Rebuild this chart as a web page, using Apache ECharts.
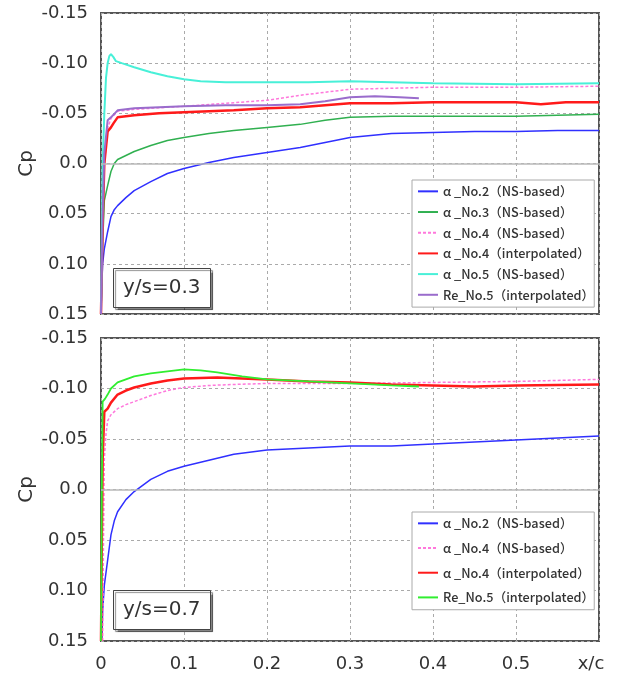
<!DOCTYPE html>
<html>
<head>
<meta charset="utf-8">
<script src="https://cdn.jsdelivr.net/npm/echarts@6.0.0/dist/echarts.min.js"></script>
<style>
  html, body { margin: 0; padding: 0; background: #fff; }
  #chart { width: 625px; height: 677px; }
</style>
</head>
<body>
<div id="chart"></div>
<script>
// ---- y/s = 0.3 : chordwise pressure coefficient ----
const xA2_03 = [0, 0.001, 0.002, 0.004, 0.008, 0.012, 0.016, 0.02, 0.03, 0.04, 0.06, 0.08, 0.1, 0.13, 0.16, 0.2, 0.24, 0.27, 0.3, 0.35, 0.4, 0.45, 0.5, 0.55, 0.6];
const cpA2_03 = [0.15, 0.12, 0.1, 0.085, 0.068, 0.053, 0.046, 0.042, 0.034, 0.027, 0.018, 0.01, 0.005, -0.001, -0.006, -0.011, -0.016, -0.021, -0.026, -0.03, -0.031, -0.032, -0.032, -0.033, -0.033];

const xA3_03 = [0, 0.002, 0.004, 0.008, 0.012, 0.016, 0.02, 0.03, 0.04, 0.06, 0.08, 0.1, 0.13, 0.16, 0.2, 0.24, 0.27, 0.3, 0.35, 0.4, 0.5, 0.6];
const cpA3_03 = [0.15, 0.08, 0.037, 0.022, 0.008, 0.0, -0.004, -0.008, -0.012, -0.018, -0.023, -0.026, -0.03, -0.033, -0.036, -0.039, -0.043, -0.046, -0.047, -0.047, -0.047, -0.049];

const xA4ns_03 = [0, 0.002, 0.004, 0.008, 0.012, 0.02, 0.04, 0.06, 0.1, 0.15, 0.2, 0.24, 0.27, 0.3, 0.35, 0.4, 0.5, 0.6];
const cpA4ns_03 = [0.15, 0.05, 0.0, -0.035, -0.045, -0.052, -0.054, -0.055, -0.057, -0.06, -0.063, -0.068, -0.071, -0.074, -0.075, -0.076, -0.076, -0.077];

const xA4ip_03 = [0, 0.002, 0.004, 0.008, 0.012, 0.015, 0.02, 0.04, 0.07, 0.1, 0.13, 0.16, 0.2, 0.24, 0.27, 0.3, 0.35, 0.4, 0.45, 0.5, 0.53, 0.56, 0.6];
const cpA4ip_03 = [0.15, 0.06, 0.0, -0.032, -0.036, -0.04, -0.046, -0.048, -0.05, -0.051, -0.052, -0.053, -0.055, -0.056, -0.058, -0.06, -0.06, -0.061, -0.061, -0.061, -0.059, -0.061, -0.061];

const xA5_03 = [0, 0.002, 0.004, 0.006, 0.008, 0.01, 0.012, 0.015, 0.018, 0.025, 0.04, 0.06, 0.08, 0.1, 0.12, 0.15, 0.2, 0.25, 0.3, 0.35, 0.4, 0.5, 0.6];
const cpA5_03 = [0.15, 0.0, -0.05, -0.085, -0.1, -0.107, -0.109, -0.106, -0.102, -0.1, -0.096, -0.091, -0.087, -0.084, -0.082, -0.081, -0.081, -0.081, -0.082, -0.081, -0.08, -0.079, -0.08];

const xR5_03 = [0, 0.002, 0.004, 0.008, 0.012, 0.02, 0.04, 0.07, 0.1, 0.15, 0.2, 0.24, 0.27, 0.3, 0.33, 0.36, 0.383];
const cpR5_03 = [0.15, 0.05, -0.01, -0.043, -0.046, -0.053, -0.055, -0.056, -0.057, -0.058, -0.058, -0.059, -0.062, -0.066, -0.067, -0.066, -0.065];

// ---- y/s = 0.7 ----
const xA2_07 = [0.001, 0.002, 0.004, 0.008, 0.012, 0.016, 0.02, 0.03, 0.04, 0.06, 0.08, 0.1, 0.13, 0.16, 0.2, 0.25, 0.3, 0.35, 0.4, 0.45, 0.5, 0.55, 0.6];
const cpA2_07 = [0.15, 0.12, 0.095, 0.07, 0.045, 0.031, 0.022, 0.01, 0.002, -0.01, -0.018, -0.023, -0.029, -0.035, -0.039, -0.041, -0.043, -0.043, -0.045, -0.047, -0.049, -0.051, -0.053];

const xA4ns_07 = [0.002, 0.003, 0.004, 0.006, 0.008, 0.012, 0.02, 0.03, 0.04, 0.06, 0.08, 0.1, 0.13, 0.16, 0.2, 0.3, 0.4, 0.5, 0.6];
const cpA4ns_07 = [0.15, 0.05, -0.03, -0.055, -0.068, -0.074, -0.08, -0.084, -0.087, -0.093, -0.098, -0.101, -0.103, -0.104, -0.105, -0.105, -0.106, -0.107, -0.109];

const xA4ip_07 = [0, 0.001, 0.002, 0.004, 0.008, 0.012, 0.02, 0.03, 0.04, 0.06, 0.08, 0.1, 0.14, 0.2, 0.25, 0.3, 0.35, 0.4, 0.45, 0.5, 0.6];
const cpA4ip_07 = [0.15, 0.05, -0.03, -0.077, -0.08, -0.086, -0.094, -0.098, -0.101, -0.105, -0.108, -0.11, -0.111, -0.109, -0.107, -0.106, -0.104, -0.103, -0.102, -0.103, -0.104];

const xR5_07 = [0, 0.001, 0.002, 0.005, 0.008, 0.012, 0.02, 0.03, 0.04, 0.06, 0.08, 0.1, 0.12, 0.14, 0.17, 0.2, 0.25, 0.3, 0.35, 0.383];
const cpR5_07 = [0.15, 0.0, -0.087, -0.09, -0.094, -0.1, -0.106, -0.109, -0.112, -0.115, -0.117, -0.119, -0.118, -0.116, -0.112, -0.109, -0.107, -0.105, -0.103, -0.102];

// axis ticks
const cpTicks = { min: -0.15, max: 0.15, step: 0.05 };
const xcTicks = { min: 0, max: 0.6, step: 0.1 };

const FONT = 'DejaVu Sans';
const LEG_FONT = 'Noto Sans CJK JP';

const pairs = (xs, ys) => xs.map((x, i) => [x, ys[i]]);

function line(key, label, panel, xs, ys, color, width, dashed) {
  return {
    type: 'line',
    name: key + '|' + label,
    xAxisIndex: panel, yAxisIndex: panel,
    data: pairs(xs, ys),
    symbol: 'none',
    smooth: false,
    silent: true,
    color: color,
    lineStyle: { color: color, width: width, type: dashed ? [3, 2] : 'solid' }
  };
}

const series = [
  line('t1', 'α _No.2（NS-based）', 0, xA2_03, cpA2_03, '#3030ff', 1.5, false),
  line('t2', 'α _No.3（NS-based）', 0, xA3_03, cpA3_03, '#30b050', 1.5, false),
  line('t3', 'α _No.4（NS-based）', 0, xA4ns_03, cpA4ns_03, '#ff78dc', 1.5, true),
  line('t4', 'α _No.4（interpolated）', 0, xA4ip_03, cpA4ip_03, '#ff1a1a', 2.5, false),
  line('t5', 'α _No.5（NS-based）', 0, xA5_03, cpA5_03, '#48f0d8', 2, false),
  line('t6', 'Re_No.5（interpolated）', 0, xR5_03, cpR5_03, '#9a6ccc', 2, false),
  line('b1', 'α _No.2（NS-based）', 1, xA2_07, cpA2_07, '#3030ff', 1.5, false),
  line('b2', 'α _No.4（NS-based）', 1, xA4ns_07, cpA4ns_07, '#ff78dc', 1.5, true),
  line('b3', 'α _No.4（interpolated）', 1, xA4ip_07, cpA4ip_07, '#ff1a1a', 2.5, false),
  line('b4', 'Re_No.5（interpolated）', 1, xR5_07, cpR5_07, '#30ee30', 1.8, false)
];

// solid reference line at Cp = 0 in each panel
[0, 6].forEach(i => {
  series[i].markLine = {
    silent: true, symbol: 'none', label: { show: false },
    lineStyle: { color: '#b8b8b8', width: 1.5, type: 'solid' },
    data: [{ yAxis: 0 }]
  };
});

function yAxis(panel) {
  return {
    type: 'value', gridIndex: panel, inverse: true,
    min: cpTicks.min, max: cpTicks.max, interval: cpTicks.step,
    name: 'Cp', nameLocation: 'middle', nameGap: 64, nameRotate: 90,
    nameMoveOverlap: false,
    nameTextStyle: { fontFamily: FONT, fontSize: 20, color: '#333' },
    axisLine: { show: false }, axisTick: { show: false },
    axisLabel: {
      fontFamily: FONT, fontSize: 18, color: '#333', margin: 13,
      formatter: v => Math.abs(v) < 1e-9 ? '0.0' : v.toFixed(2)
    },
    splitLine: { show: true, lineStyle: { color: '#aaa', type: [3, 3], width: 1 } }
  };
}

function xAxis(panel, showLabels) {
  return {
    type: 'value', gridIndex: panel,
    min: xcTicks.min, max: xcTicks.max, interval: xcTicks.step,
    axisLine: { show: false }, axisTick: { show: false },
    axisLabel: {
      show: showLabels, fontFamily: FONT, fontSize: 18, color: '#333', margin: 14,
      formatter: v => v > xcTicks.max - 1e-9 ? '{xc|x/c}' : (Math.abs(v) < 1e-9 ? '0' : String(+v.toFixed(1))),
      rich: { xc: { fontFamily: FONT, fontSize: 18, color: '#333', padding: [0, 16, 0, 0] } }
    },
    splitLine: { show: true, lineStyle: { color: '#aaa', type: [3, 3], width: 1 } }
  };
}

function legend(keys, top, gap) {
  return {
    orient: 'vertical', left: 412, top: top,
    data: series.filter(s => keys.includes(s.name.split('|')[0])).map(s => s.name),
    formatter: n => n.split('|')[1],
    itemWidth: 20, itemHeight: 12, itemGap: gap,
    itemStyle: { opacity: 0 },
    padding: [5, 0, 6, 5],
    backgroundColor: '#fff', borderColor: '#aaa', borderWidth: 1,
    selectedMode: false,
    textStyle: { fontFamily: LEG_FONT, fontSize: 12.7, color: '#333', fontWeight: 500 }
  };
}

function note(text, top) {
  return {
    text: text, left: 113, top: top,
    padding: [9, 10, 9, 10],
    backgroundColor: '#fff', borderColor: '#444', borderWidth: 1,
    shadowColor: 'rgba(0,0,0,0.45)', shadowOffsetX: 2, shadowOffsetY: 2, shadowBlur: 1,
    textStyle: { fontFamily: FONT, fontSize: 20, fontWeight: 'normal', color: '#333', lineHeight: 22 }
  };
}

const chart = echarts.init(document.getElementById('chart'), null, { renderer: 'canvas' });
chart.setOption({
  animation: false,
  backgroundColor: '#fff',
  grid: [
    { left: 101, right: 26, top: 13, height: 301, show: true, borderColor: '#555', borderWidth: 2, backgroundColor: 'transparent' },
    { left: 101, right: 26, top: 338, height: 303, show: true, borderColor: '#555', borderWidth: 2, backgroundColor: 'transparent' }
  ],
  xAxis: [xAxis(0, false), xAxis(1, true)],
  yAxis: [yAxis(0), yAxis(1)],
  legend: [legend(['t1', 't2', 't3', 't4', 't5', 't6'], 180, 8), legend(['b1', 'b2', 'b3', 'b4'], 512, 12)],
  title: [note('y/s=0.3', 268), note('y/s=0.7', 590)],
  series: series
});
</script>
</body>
</html>
